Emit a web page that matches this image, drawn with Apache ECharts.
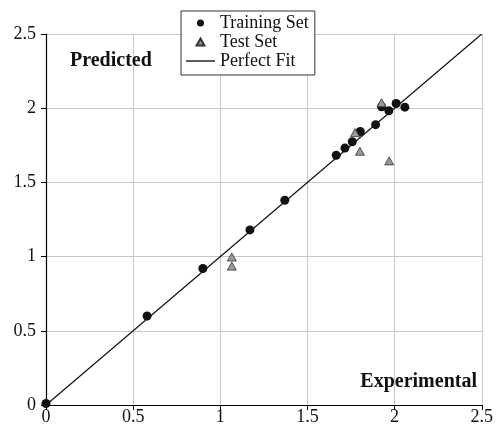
<!DOCTYPE html>
<html>
<head>
<meta charset="utf-8">
<script src="https://cdn.jsdelivr.net/npm/echarts@6/dist/echarts.min.js"></script>
<style>html,body{margin:0;padding:0;background:#fff}#c{width:496px;height:431px}</style>
</head>
<body>
<div id="c"></div>
<script>
const axisTicks = [0, 0.5, 1, 1.5, 2, 2.5];
const trainingSet = [[0,0.01],[0.58,0.60],[0.90,0.92],[1.17,1.18],[1.37,1.38],[1.665,1.683],[1.715,1.731],[1.757,1.774],[1.803,1.843],[1.891,1.889],[1.925,2.01],[1.967,1.983],[2.009,2.032],[2.059,2.007]];
const testSet = [[1.066,0.997],[1.066,0.936],[1.773,1.835],[1.801,1.71],[1.925,2.037],[1.969,1.645]];
const perfectFit = [[0,0],[2.5,2.5]];
const seriesNames = ['Training Set','Test Set','Perfect Fit'];

const font = 'Liberation Serif';
const chart = echarts.init(document.getElementById('c'), null, {renderer:'canvas'});
const axisCommon = {
  type:'value', min:axisTicks[0], max:axisTicks[axisTicks.length-1], interval:0.5,
  axisLine:{show:true, onZero:false, lineStyle:{color:'#000', width:1.2}},
  axisTick:{show:true, length:5, lineStyle:{color:'#000'}},
  splitLine:{show:true, lineStyle:{color:'#c8c8c8', width:1}},
  axisLabel:{color:'#111', fontFamily:font, fontSize:18, formatter: v => String(v)}
};
chart.setOption({
  animation:false,
  backgroundColor:'#fff',
  grid:{left:46, right:13, top:34, bottom:26, show:false},
  title:[
    {text:'Predicted', left:65, top:46, textStyle:{fontFamily:font, fontSize:20, fontWeight:'bold', color:'#111'}},
    {text:'Experimental', right:14, top:367, textStyle:{fontFamily:font, fontSize:20, fontWeight:'bold', color:'#111'}}
  ],
  legend:{
    left:181, top:11, orient:'vertical', itemGap:1, itemWidth:29, itemHeight:7,
    symbolKeepAspect:true,
    padding:[3,6,5,5], borderColor:'#333', borderWidth:1, backgroundColor:'#fff',
    textStyle:{fontFamily:font, fontSize:18, color:'#111'},
    data:[
      {name:seriesNames[0], icon:'circle'},
      {name:seriesNames[1], icon:'path://M5,0L10,9L0,9Z'},
      {name:seriesNames[2], icon:'path://M0,0H30V1.4H0Z'}
    ]
  },
  xAxis:Object.assign({}, axisCommon, {axisLabel:Object.assign({}, axisCommon.axisLabel, {margin:3})}),
  yAxis:Object.assign({}, axisCommon, {axisLabel:Object.assign({}, axisCommon.axisLabel, {margin:10})}),
  series:[
    {name:seriesNames[2], type:'line', data:perfectFit, symbol:'none', lineStyle:{color:'#111', width:1.2}, itemStyle:{color:'#111'}, z:2},
    {name:seriesNames[0], type:'scatter', data:trainingSet, symbol:'circle', symbolSize:9, itemStyle:{color:'#111', opacity:1}, z:3},
    {name:seriesNames[1], type:'scatter', data:testSet, symbol:'triangle', symbolSize:[9,8], itemStyle:{color:'#999', borderColor:'#333', borderWidth:0.8, opacity:1}, z:4}
  ]
});
</script>
</body>
</html>
